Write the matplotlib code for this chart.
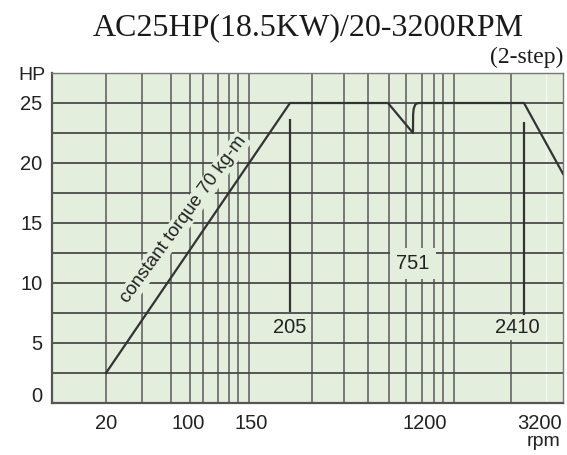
import numpy as np
import matplotlib.pyplot as plt
from matplotlib.transforms import ScaledTranslation

# power curve (rpm, HP)
rpm = [20, 205, 640, 751, 755, 775, 830, 900, 1000, 2410, 3600]
hp = [2.5, 25, 25, 22.5, 24.0, 24.5, 24.85, 24.97, 25, 25, 19.1]

# vertical marks with their labels
mark_rpm = [205, 2410]
mark_top = [23.7, 23.4]
mark_bottom = [7.6, 7.3]
mark_labels = ['205', '2410']

x_ticks = [20, 100, 150, 1200, 3200]
y_ticks = [0, 5, 10, 15, 20, 25]

# the chart's rpm axis is schematic: piecewise spacing
scale_rpm = [0, 20, 100, 150, 205, 751, 1200, 2410, 3200, 3600]
scale_pos = [52, 106, 188, 251, 290, 413, 425, 524, 540, 563]
grid_pos = [106, 142, 171, 190, 203, 218, 229, 238, 249, 312, 344, 368,
            389, 406, 422, 434, 443, 454, 511]


def fwd(x):
    return np.interp(x, scale_rpm, scale_pos)


def inv(p):
    return np.interp(p, scale_pos, scale_rpm)


bg = '#e3eedd'
dark = '#333333'
txt = '#222222'
sans = 'Liberation Sans'

fig = plt.figure(figsize=(5.67, 4.55), dpi=100)
ax = fig.add_axes([52 / 567, 52 / 455, 511 / 567, 330 / 455])
ax.set_facecolor(bg)
ax.set_xscale('function', functions=(fwd, inv))
ax.set_xlim(0, 3600)
ax.set_ylim(0, 27.5)

ax.vlines(inv(np.array(grid_pos)), 0, 27.5, colors='#707070', lw=1.3, zorder=1)
ax.vlines(inv(546), 0, 27.5, colors='#f4f8f2', lw=1.0, zorder=1)
for yv in np.arange(2.5, 27.5, 2.5):
    ax.axhline(yv, color='#4a4a4a', lw=1.3, zorder=1)

ax.vlines(mark_rpm, mark_bottom, mark_top, colors=dark, lw=1.6, zorder=2)
ax.plot(rpm, hp, color=dark, lw=1.6, zorder=3)

box = dict(facecolor=bg, edgecolor='none', pad=2)
ax.annotate(mark_labels[0], (mark_rpm[0], 6.3), ha='center', va='center',
            fontsize=14.5, color=txt, family=sans, bbox=box, zorder=4)
ax.annotate(mark_labels[1], (mark_rpm[1], 6.3), xytext=(-4.5, 0), textcoords='offset points',
            ha='center', va='center', fontsize=14.5, color=txt,
            family=sans, bbox=box, zorder=4)
ax.text(751, 11.6, '751', ha='center', va='center', fontsize=14.5, color=txt,
        family=sans, zorder=4,
        bbox=dict(facecolor=bg, edgecolor='none', boxstyle='square,pad=0.3'))
ax.text(0.258, 0.557, 'constant torque 70 kg-m', transform=ax.transAxes,
        rotation=54, rotation_mode='anchor', ha='center', va='center',
        fontsize=13.5, color=txt, family=sans, zorder=4,
        bbox=dict(facecolor=bg, edgecolor='none', pad=1))

ax.set_xticks(x_ticks)
ax.set_xticklabels([str(v) for v in x_ticks])
ax.set_yticks(y_ticks)
ax.set_yticklabels([str(v) for v in y_ticks])
ax.xaxis.set_minor_locator(plt.NullLocator())
ax.tick_params(axis='both', length=0, labelsize=14.5, labelcolor=txt)
ax.tick_params(axis='x', pad=8)
ax.tick_params(axis='y', pad=7)
for lbl in ax.get_xticklabels() + ax.get_yticklabels():
    lbl.set_family(sans)
zero = ax.yaxis.get_major_ticks()[0].label1
zero.set_transform(zero.get_transform() + ScaledTranslation(0, 6 / 72, fig.dpi_scale_trans))

for side in ['left', 'bottom']:
    ax.spines[side].set_color('#555555')
    ax.spines[side].set_linewidth(1.6)
for side in ['top', 'right']:
    ax.spines[side].set_color('#777777')
    ax.spines[side].set_linewidth(1.0)

fig.text(0.544, 1 - 35 / 455, 'AC25HP(18.5KW)/20-3200RPM', ha='center', va='baseline',
         fontsize=23, family='Liberation Serif', color='#1a1a1a')
fig.text(563 / 567, 1 - 63 / 455, '(2-step)', ha='right', va='baseline',
         fontsize=17, family='Liberation Serif', color='#1a1a1a')
fig.text(31.5 / 567, 1 - 75 / 455, 'HP', ha='center', va='center',
         fontsize=14, family=sans, color=txt)
fig.text(544 / 567, 1 - 442 / 455, 'rpm', ha='center', va='center',
         fontsize=14, family=sans, color=txt)

fig.savefig('out.png', dpi=100)
